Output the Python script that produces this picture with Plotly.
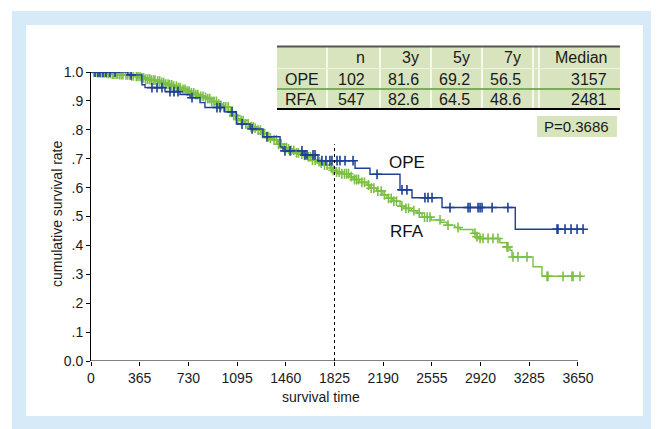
import numpy as np
import plotly.graph_objects as go

# ---------------- data ----------------
ope_times = [0, 277, 382, 405, 555, 667, 742, 817, 854, 1000, 1090, 1192, 1289, 1417, 1439,
             1589, 1701, 1979, 2091, 2316, 2406, 2631, 3180]
ope_surv = [1.0, 0.99, 0.956, 0.946, 0.932, 0.922, 0.911, 0.894, 0.877, 0.862, 0.82, 0.803,
            0.776, 0.741, 0.727, 0.713, 0.693, 0.667, 0.646, 0.592, 0.565, 0.531, 0.456]
ope_censored = [30, 52, 67, 90, 112, 142, 180, 300, 457, 495, 532, 592, 622, 652, 757, 944, 967,
                1057, 1132, 1207, 1319, 1454, 1492, 1581, 1604, 1619, 1664, 1679, 1731, 1761,
                1791, 1806, 1844, 1866, 1904, 1964, 2144, 2331, 2368, 2503, 2526, 2556, 2691,
                2826, 2841, 2901, 2916, 2931, 3006, 3125, 3493, 3500, 3553, 3598, 3643, 3688]
ope_end = 3688

rfa_times = [0, 40, 67, 120, 157, 210, 255, 300, 330, 370, 405, 450, 495, 530, 555, 590, 615,
             650, 682, 715, 742, 780, 817, 845, 869, 905, 944, 970, 989, 1030, 1064, 1090,
             1117, 1150, 1192, 1220, 1244, 1280, 1319, 1345, 1364, 1400, 1439, 1470, 1492,
             1530, 1567, 1600, 1619, 1660, 1694, 1720, 1750, 1791, 1815, 1835, 1880, 1941,
             1964, 2010, 2069, 2091, 2140, 2188, 2219, 2260, 2316, 2338, 2400, 2443, 2481,
             2550, 2620, 2668, 2728, 2766, 2863, 2893, 2908, 3065, 3118, 3140, 3155, 3313, 3380]
rfa_surv = [1.0, 0.998, 0.997, 0.995, 0.993, 0.991, 0.99, 0.987, 0.985, 0.98, 0.975, 0.972,
            0.968, 0.963, 0.958, 0.955, 0.951, 0.946, 0.94, 0.934, 0.928, 0.922, 0.916, 0.912,
            0.908, 0.898, 0.889, 0.884, 0.879, 0.862, 0.849, 0.838, 0.832, 0.82, 0.81, 0.806,
            0.799, 0.787, 0.776, 0.771, 0.765, 0.75, 0.738, 0.734, 0.729, 0.72, 0.716, 0.712,
            0.706, 0.695, 0.69, 0.685, 0.678, 0.668, 0.66, 0.654, 0.648, 0.638, 0.628, 0.618,
            0.609, 0.598, 0.588, 0.575, 0.563, 0.553, 0.536, 0.528, 0.52, 0.512, 0.498, 0.488,
            0.48, 0.47, 0.462, 0.455, 0.442, 0.43, 0.424, 0.409, 0.395, 0.383, 0.36, 0.326, 0.293]
rfa_censored = [20, 35, 48, 60, 75, 90, 102, 118, 130, 145, 160, 172, 188, 200, 215, 228, 240,
                262, 275, 290, 305, 318, 340, 352, 368, 380, 395, 410, 425, 440, 452, 468, 480,
                500, 515, 530, 545, 560, 578, 590, 605, 620, 640, 655, 668, 690, 705, 720, 735,
                752, 770, 785, 800, 822, 840, 858, 875, 890, 905, 922, 940, 958, 975, 995, 1010,
                1028, 1045, 1070, 1085, 1100, 1125, 1140, 1160, 1178, 1200, 1215, 1230, 1252,
                1270, 1285, 1300, 1330, 1345, 1372, 1390, 1405, 1425, 1450, 1465, 1480, 1500,
                1520, 1540, 1555, 1580, 1600, 1630, 1645, 1660, 1680, 1710, 1725, 1750, 1770,
                1800, 1815, 1840, 1860, 1880, 1900, 1915, 1930, 1950, 1975, 1990, 2005, 2030,
                2050, 2080, 2100, 2120, 2150, 2175, 2200, 2230, 2250, 2270, 2290, 2330, 2360,
                2380, 2420, 2460, 2500, 2520, 2541, 2616, 2676, 2751, 2878, 2893, 2916, 2938,
                2976, 3013, 3050, 3118, 3125, 3163, 3200, 3268, 3418, 3425, 3538, 3605, 3613, 3665]
rfa_end = 3680

x_tick_vals = [0, 365, 730, 1095, 1460, 1825, 2190, 2555, 2920, 3285, 3650]
y_tick_vals = [0.0, 0.1, 0.2, 0.3, 0.4, 0.5, 0.6, 0.7, 0.8, 0.9, 1.0]
y_tick_text = ["0.0", ".1", ".2", ".3", ".4", ".5", ".6", ".7", ".8", ".9", "1.0"]

table_header = ["n", "3y", "5y", "7y", "Median"]
table_rows = [["OPE", "102", "81.6", "69.2", "56.5", "3157"],
              ["RFA", "547", "82.6", "64.5", "48.6", "2481"]]
p_value_label = "P=0.3686"
five_year_mark = 1825

# ---------------- styles ----------------
BLUE = "#1d3f95"
GREEN = "#7cc043"
TABLE_FILL = "#d8e4bd"
FRAME = "#d6eaf8"
FONT = "Liberation Sans, Arial, Helvetica, sans-serif"

OFF = 8  # page body margin
W, H = 659 - OFF, 429 - OFF
# plot area in page pixels: x 91..598, y 72..361
PL, PR, PT, PB = 91, 598, 72, 361
ML, MR, MT, MB = PL - OFF, W - (PR - OFF), PT - OFF, H - (PB - OFF)
PW, PH = PR - PL, PB - PT
X_MAX = 3800


def px(x):
    return (x - PL) / PW


def py(y):
    return (PB - y) / PH


def surv_at(times, surv, t):
    idx = np.searchsorted(np.asarray(times), np.asarray(t), side="right") - 1
    return np.asarray(surv)[idx]


fig = go.Figure()

for times, surv, cens, end, color, name in [
    (rfa_times, rfa_surv, rfa_censored, rfa_end, GREEN, "RFA"),
    (ope_times, ope_surv, ope_censored, ope_end, BLUE, "OPE"),
]:
    fig.add_trace(go.Scatter(
        x=list(times) + [end], y=list(surv) + [surv[-1]],
        mode="lines", line=dict(color=color, width=1.4, shape="hv"),
        name=name, showlegend=False, hoverinfo="skip"))
    fig.add_trace(go.Scatter(
        x=cens, y=surv_at(times, surv, cens), mode="markers",
        marker=dict(symbol="cross-thin", size=7, line=dict(width=1.6, color=color)),
        showlegend=False, hoverinfo="skip"))

shapes = []
# frame
shapes.append(dict(type="rect", xref="paper", yref="paper", x0=px(12), x1=px(657),
                   y0=py(432), y1=py(11), fillcolor=FRAME, line=dict(width=0), layer="below"))
shapes.append(dict(type="rect", xref="paper", yref="paper", x0=px(26), x1=px(643),
                   y0=py(416), y1=py(25), fillcolor="white", line=dict(width=0), layer="below"))
# x axis line
shapes.append(dict(type="line", xref="x", yref="y", x0=0, x1=3650, y0=0, y1=0,
                   line=dict(color="black", width=1)))
# 5-year dashed line
shapes.append(dict(type="line", xref="x", yref="y", x0=five_year_mark, x1=five_year_mark,
                   y0=0, y1=0.75, line=dict(color="black", width=1, dash="dot")))

# table
T_L, T_R, T_T, T_B = 277, 620, 46.5, 109
row_lines = [68.5, 89]
shapes.append(dict(type="rect", xref="paper", yref="paper", x0=px(T_L), x1=px(T_R),
                   y0=py(T_B), y1=py(T_T), fillcolor=TABLE_FILL, line=dict(width=0)))
for xv in [327, 380, 431, 482, 533, 539]:
    shapes.append(dict(type="line", xref="paper", yref="paper", x0=px(xv), x1=px(xv),
                       y0=py(T_B), y1=py(T_T), line=dict(color="white", width=1.5)))
shapes.append(dict(type="line", xref="paper", yref="paper", x0=px(T_L), x1=px(T_R),
                   y0=py(row_lines[0]), y1=py(row_lines[0]), line=dict(color="#eef3e2", width=1)))
shapes.append(dict(type="line", xref="paper", yref="paper", x0=px(T_L), x1=px(T_R),
                   y0=py(row_lines[1]), y1=py(row_lines[1]), line=dict(color="#5f9a3c", width=1.5)))
shapes.append(dict(type="line", xref="paper", yref="paper", x0=px(T_L), x1=px(T_R),
                   y0=py(T_T), y1=py(T_T), line=dict(color="#555555", width=2)))
shapes.append(dict(type="line", xref="paper", yref="paper", x0=px(T_L), x1=px(T_R),
                   y0=py(T_B), y1=py(T_B), line=dict(color="black", width=2)))
# p-value box
shapes.append(dict(type="rect", xref="paper", yref="paper", x0=px(537), x1=px(617),
                   y0=py(137), y1=py(116), fillcolor=TABLE_FILL, line=dict(width=0)))

annotations = []
col_right = [367, 421, 472, 523, 609]
row_y = [58, 79, 99.5]
TFONT = dict(size=16, color="#1a1a1a", family=FONT)
for xr, txt in zip(col_right, table_header):
    annotations.append(dict(xref="paper", yref="paper", x=px(xr), y=py(row_y[0]), text=txt,
                            xanchor="right", yanchor="middle", showarrow=False, font=TFONT))
for ri, row in enumerate(table_rows):
    yy = py(row_y[ri + 1])
    annotations.append(dict(xref="paper", yref="paper", x=px(283), y=yy, text=row[0],
                            xanchor="left", yanchor="middle", showarrow=False, font=TFONT))
    for xr, txt in zip(col_right, row[1:]):
        annotations.append(dict(xref="paper", yref="paper", x=px(xr), y=yy, text=txt,
                                xanchor="right", yanchor="middle", showarrow=False, font=TFONT))
annotations.append(dict(xref="paper", yref="paper", x=px(611), y=py(126.5), text=p_value_label,
                        xanchor="right", yanchor="middle", showarrow=False,
                        font=dict(size=15, color="#1a1a1a", family=FONT)))
# curve labels
annotations.append(dict(xref="x", yref="y", x=2368, y=0.686, text="OPE", showarrow=False,
                        font=dict(size=17, color="#111111", family=FONT)))
annotations.append(dict(xref="x", yref="y", x=2368, y=0.447, text="RFA", showarrow=False,
                        font=dict(size=17, color="#111111", family=FONT)))
# axis titles
annotations.append(dict(xref="paper", yref="paper", x=px(57), y=py(214),
                        text="cumulative survival rate", textangle=-90, showarrow=False,
                        xanchor="center", yanchor="middle",
                        font=dict(size=14, color="#1a1a1a", family=FONT)))
annotations.append(dict(xref="paper", yref="paper", x=px(321), y=py(397),
                        text="survival time", showarrow=False,
                        xanchor="center", yanchor="middle",
                        font=dict(size=14, color="#1a1a1a", family=FONT)))

fig.update_layout(
    width=W, height=H, autosize=False,
    margin=dict(l=ML, r=MR, t=MT, b=MB, pad=0),
    paper_bgcolor="white", plot_bgcolor="rgba(0,0,0,0)",
    font=dict(family=FONT, size=14, color="#1a1a1a"),
    shapes=shapes, annotations=annotations, showlegend=False,
    xaxis=dict(range=[0, X_MAX], tickvals=x_tick_vals, ticks="outside", ticklen=4,
               tickcolor="black", showgrid=False, zeroline=False, showline=False,
               tickfont=dict(size=14, family=FONT, color="#1a1a1a")),
    yaxis=dict(range=[0, 1], tickvals=y_tick_vals, ticktext=y_tick_text, ticks="outside",
               ticklen=4, tickcolor="black", showgrid=False, zeroline=False, showline=True,
               linecolor="black", linewidth=1,
               tickfont=dict(size=14, family=FONT, color="#1a1a1a")),
)

fig.write_html("out.html")
